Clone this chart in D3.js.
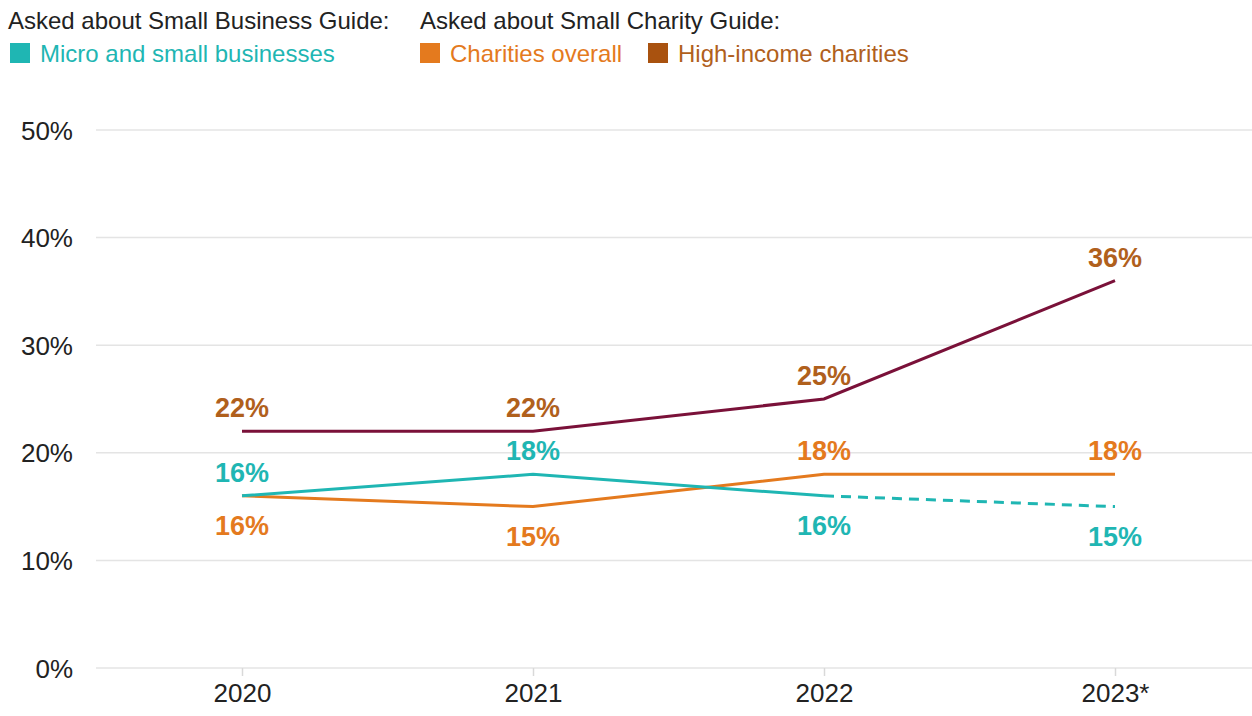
<!DOCTYPE html>
<html>
<head>
<meta charset="utf-8">
<script src="https://cdn.jsdelivr.net/npm/d3@7"></script>
<style>
  html, body { margin: 0; padding: 0; background: #fff; }
  svg { display: block; font-family: "Liberation Sans", Arial, sans-serif; }
</style>
</head>
<body>
<svg id="chart" width="1252" height="716"></svg>
<script>
// Survey years (2023 figure for businesses is provisional, shown dashed)
const years = ["2020", "2021", "2022", "2023*"];
const microSmallBusinesses = [16, 18, 16, 15];
const charitiesOverall = [16, 15, 18, 18];
const highIncomeCharities = [22, 22, 25, 36];
const yTicks = [0, 10, 20, 30, 40, 50];

const colors = {
  teal: "#1fb6b3",
  orange: "#e47a1e",
  maroon: "#7a1139",
  brown: "#b0601c",
  brownSquare: "#a9520f"
};

const svg = d3.select("#chart");
const W = 1252;

const x = d3.scalePoint().domain(years).range([242, 1115]).padding(0);
const y = d3.scaleLinear().domain([0, 50]).range([668, 130]);

// Gridlines
svg.append("g")
  .selectAll("line")
  .data(yTicks)
  .join("line")
  .attr("x1", 96).attr("x2", W)
  .attr("y1", d => y(d)).attr("y2", d => y(d))
  .attr("stroke", "#e4e4e4").attr("stroke-width", 1.5);

// Y axis labels
const yAxis = svg.append("g")
  .attr("transform", "translate(73,0)")
  .call(d3.axisLeft(y).tickValues(yTicks).tickFormat(d => d + "%").tickSize(0).tickPadding(0));
yAxis.select(".domain").remove();
yAxis.selectAll("text")
  .attr("font-family", "Liberation Sans, Arial, sans-serif")
  .attr("font-size", 26).attr("fill", "#222").attr("dy", "0.35em");

// X axis with short ticks
const xAxis = svg.append("g")
  .attr("transform", `translate(0,${y(0)})`)
  .call(d3.axisBottom(x).tickSize(8).tickPadding(8));
xAxis.select(".domain").remove();
xAxis.selectAll("line").attr("stroke", "#d9d9d9").attr("stroke-width", 1.5);
xAxis.selectAll("text")
  .attr("font-family", "Liberation Sans, Arial, sans-serif")
  .attr("font-size", 26).attr("fill", "#222");

// Lines
const line = d3.line().x(d => x(d.year)).y(d => y(d.v));
const toPts = arr => years.map((yr, i) => ({ year: yr, v: arr[i] }));

const hi = toPts(highIncomeCharities);
const ch = toPts(charitiesOverall);
const mb = toPts(microSmallBusinesses);

svg.append("path").attr("d", line(hi)).attr("fill", "none")
  .attr("stroke", colors.maroon).attr("stroke-width", 3);
svg.append("path").attr("d", line(ch)).attr("fill", "none")
  .attr("stroke", colors.orange).attr("stroke-width", 3);
// Businesses: solid up to 2022, dashed to provisional 2023
svg.append("path").attr("d", line(mb.slice(0, 3))).attr("fill", "none")
  .attr("stroke", colors.teal).attr("stroke-width", 3);
svg.append("path").attr("d", line(mb.slice(2))).attr("fill", "none")
  .attr("stroke", colors.teal).attr("stroke-width", 3)
  .attr("stroke-dasharray", "10,7");

// Value labels
function label(pt, color, above) {
  svg.append("text")
    .attr("x", x(pt.year))
    .attr("y", above ? y(pt.v) - 14 : y(pt.v) + 39)
    .attr("text-anchor", "middle")
    .attr("font-size", 27).attr("font-weight", "bold")
    .attr("fill", color)
    .text(pt.v + "%");
}
hi.forEach(p => label(p, colors.brown, true));
mb.forEach((p, i) => label(p, colors.teal, microSmallBusinesses[i] >= charitiesOverall[i]));
ch.forEach((p, i) => label(p, colors.orange, charitiesOverall[i] > microSmallBusinesses[i]));

// Legend
const lg = svg.append("g").attr("font-size", 24);
lg.append("text").attr("x", 8).attr("y", 29).attr("fill", "#222").text("Asked about Small Business Guide:");
lg.append("text").attr("x", 420).attr("y", 29).attr("fill", "#222").text("Asked about Small Charity Guide:");
const items = [
  { x: 10, color: colors.teal, text: "Micro and small businesses", tc: colors.teal },
  { x: 420, color: colors.orange, text: "Charities overall", tc: colors.orange },
  { x: 648, color: colors.brownSquare, text: "High-income charities", tc: colors.brown }
];
items.forEach(it => {
  lg.append("rect").attr("x", it.x).attr("y", 43).attr("width", 20).attr("height", 20).attr("fill", it.color);
  lg.append("text").attr("x", it.x + 30).attr("y", 62).attr("fill", it.tc).text(it.text);
});
</script>
</body>
</html>
